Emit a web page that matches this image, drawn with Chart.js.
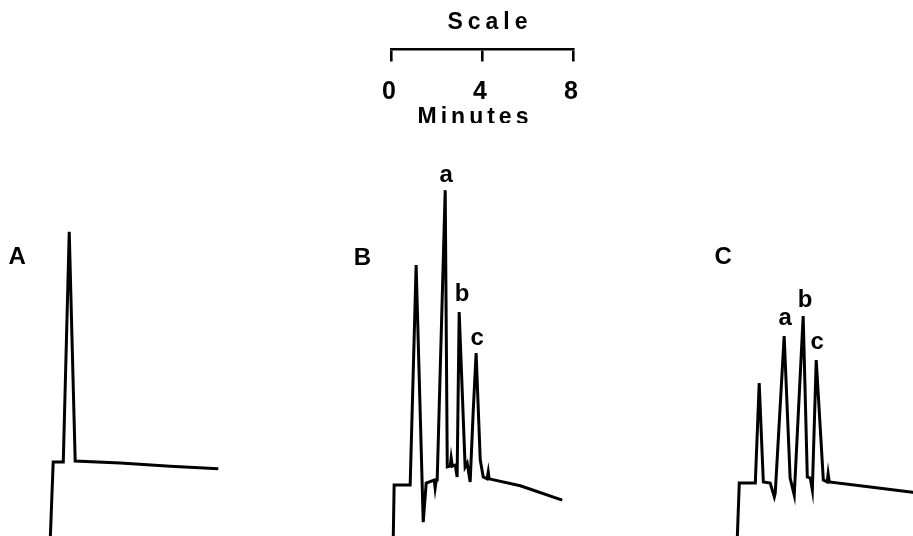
<!DOCTYPE html>
<html>
<head>
<meta charset="utf-8">
<script src="https://cdn.jsdelivr.net/npm/chart.js@4.4.1/dist/chart.umd.min.js"></script>
<style>
body { margin:0; background:#fff; }
#page { position:relative; width:913px; height:536px; overflow:hidden; background:#fff; }
.box { position:absolute; }
#scaleBox { left:340px; top:-200px; width:280px; height:360px; }
#boxA { left:9px; top:150px; width:240px; height:386px; }
#boxB { left:352px; top:150px; width:240px; height:386px; }
#boxC { left:696px; top:150px; width:240px; height:386px; }
</style>
</head>
<body>
<div id="page">
  <div class="box" id="scaleBox"><canvas id="scaleChart"></canvas></div>
  <div class="box" id="boxA"><canvas id="chartA"></canvas></div>
  <div class="box" id="boxB"><canvas id="chartB"></canvas></div>
  <div class="box" id="boxC"><canvas id="chartC"></canvas></div>
</div>
<script>
// time in minutes after start of trace, detector response in arbitrary units (0-100)
var timeA = [0, 0.13, 0.57, 0.83, 1.09, 3.06, 5.24, 7.34];
var respA = [-1, 19.2, 19.2, 78.8, 19.4, 18.9, 18.1, 17.4];

var timeB = [0, 0.04, 0.74, 1.00, 1.31, 1.44, 1.79, 1.83, 1.88, 1.92, 2.27, 2.36, 2.49, 2.53, 2.58, 2.71, 2.79, 2.88, 3.14, 3.23, 3.36, 3.49, 3.62, 3.80, 3.93, 4.10, 4.15, 4.19, 5.55, 7.38];
var respB = [-1, 13.2, 13.2, 70.2, 3.6, 13.7, 14.5, 12.4, 14.5, 14.5, 89.6, 17.9, 18.1, 20.2, 18.1, 18.4, 15.3, 58.0, 17.9, 18.9, 14.0, 31.9, 47.4, 19.7, 15.3, 14.8, 16.6, 14.8, 13.0, 9.3];

var timeC = [0, 0.09, 0.79, 0.96, 1.14, 1.44, 1.62, 1.66, 2.05, 2.31, 2.49, 2.88, 3.06, 3.19, 3.28, 3.45, 3.76, 3.93, 3.97, 4.02, 5.81, 8.0];
var respC = [-1, 13.7, 13.7, 39.6, 14.0, 13.7, 10.1, 11.1, 51.8, 15.0, 10.6, 57.0, 15.3, 15.0, 11.9, 45.6, 14.5, 14.0, 16.1, 14.0, 12.7, 11.1];

// peaks a, b, c
var peakNames = ['a', 'b', 'c'];
var peakTimesB = [2.27, 2.88, 3.62];
var peakTimesC = [2.05, 2.88, 3.45];

// scale bar
var scaleTicks = [0, 4, 8];
var scaleTitle = 'Scale';
var scaleUnit = 'Minutes';

var FONT = '"Liberation Sans", Arial, sans-serif';
var BAR_Y = 49; // where the scale bracket sits on the page

function toPoints(t, r) {
    var pts = [];
    for (var i = 0; i < t.length; i++) pts.push({x: t[i], y: r[i]});
    return pts;
}

// writes panel letter and peak names
var chromLabels = {
    id: 'chromLabels',
    afterDatasetsDraw: function(chart, args, opts) {
        var ctx = chart.ctx;
        var xs = chart.scales.x, ys = chart.scales.y;
        ctx.save();
        ctx.fillStyle = '#000';
        ctx.textAlign = 'center';
        ctx.font = 'bold 24px ' + FONT;
        if (opts.panel) {
            ctx.textBaseline = 'middle';
            ctx.fillText(opts.panel.text, xs.getPixelForValue(opts.panel.t), ys.getPixelForValue(opts.panel.v));
        }
        if (opts.peaks) {
            ctx.textBaseline = 'alphabetic';
            var data = chart.data.datasets[0].data;
            opts.peaks.forEach(function(tp, i) {
                var pt = data.find(function(d) { return d.x === tp; });
                if (!pt) return;
                var off = opts.offsets[i];
                ctx.fillText(opts.names[i], xs.getPixelForValue(pt.x) + off[0], ys.getPixelForValue(pt.y) - off[1]);
            });
        }
        ctx.restore();
    }
};

function traceChart(id, t, r, panel, peaks, offsets) {
    return new Chart(document.getElementById(id).getContext('2d'), {
        type: 'line',
        data: {
            datasets: [{
                data: toPoints(t, r),
                borderColor: '#000',
                borderWidth: 3,
                pointRadius: 0,
                tension: 0,
                fill: false
            }]
        },
        options: {
            responsive: true,
            maintainAspectRatio: false,
            animation: false,
            layout: { padding: 0 },
            scales: {
                x: { type: 'linear', min: -1.8, max: 8.68, display: false },
                y: { min: 0, max: 100, display: false }
            },
            plugins: {
                legend: { display: false },
                tooltip: { enabled: false },
                chromLabels: { panel: panel, peaks: peaks, names: peakNames, offsets: offsets }
            }
        },
        plugins: [chromLabels]
    });
}

traceChart('chartA', timeA, respA, {text: 'A', t: -1.44, v: 72.3}, null, null);
traceChart('chartB', timeB, respB, {text: 'B', t: -1.35, v: 72.0}, peakTimesB, [[1, 8], [3, 11], [1, 8]]);
traceChart('chartC', timeC, respC, {text: 'C', t: -0.61, v: 72.3}, peakTimesC, [[1, 11], [2, 9], [1, 11]]);

// scale bar: a bare x axis with bracket ticks, text placed from the axis line
var scaleDeco = {
    id: 'scaleDeco',
    afterLayout: function(chart) {
        // slide the box so the axis line lands at BAR_Y
        chart.canvas.parentNode.style.top = (BAR_Y - chart.chartArea.bottom) + 'px';
    },
    beforeDraw: function(chart) {
        chart.ctx.letterSpacing = '4px';
    },
    afterDraw: function(chart) {
        var ctx = chart.ctx;
        var bar = chart.chartArea.bottom;
        var mid = chart.scales.x.getPixelForValue(4);
        ctx.save();
        ctx.fillStyle = '#000';
        ctx.textAlign = 'center';
        ctx.textBaseline = 'middle';
        ctx.letterSpacing = '5px';
        ctx.font = 'bold 23px ' + FONT;
        ctx.fillText(scaleTitle, mid + 8, bar - 27);
        ctx.letterSpacing = '4px';
        ctx.fillText(scaleUnit, mid - 7, bar + 68);
        ctx.restore();
    }
};

new Chart(document.getElementById('scaleChart').getContext('2d'), {
    type: 'line',
    data: { datasets: [] },
    options: {
        responsive: true,
        maintainAspectRatio: false,
        animation: false,
        layout: { padding: { left: 51, right: 47, top: 0, bottom: 0 } },
        scales: {
            x: {
                type: 'linear',
                min: 0,
                max: 8,
                afterBuildTicks: function(axis) {
                    axis.ticks = scaleTicks.map(function(v) { return {value: v}; });
                },
                border: { display: true, color: '#000', width: 2.6 },
                grid: { display: true, drawOnChartArea: false, drawTicks: true, tickLength: 12, color: '#000', lineWidth: 2.6 },
                ticks: { color: '#000', font: { family: FONT, size: 25, weight: 'bold', lineHeight: 1.1 }, padding: 17, maxRotation: 0 }
            },
            y: { display: false, min: 0, max: 1 }
        },
        plugins: {
            legend: { display: false },
            tooltip: { enabled: false }
        }
    },
    plugins: [scaleDeco]
});
</script>
</body>
</html>
